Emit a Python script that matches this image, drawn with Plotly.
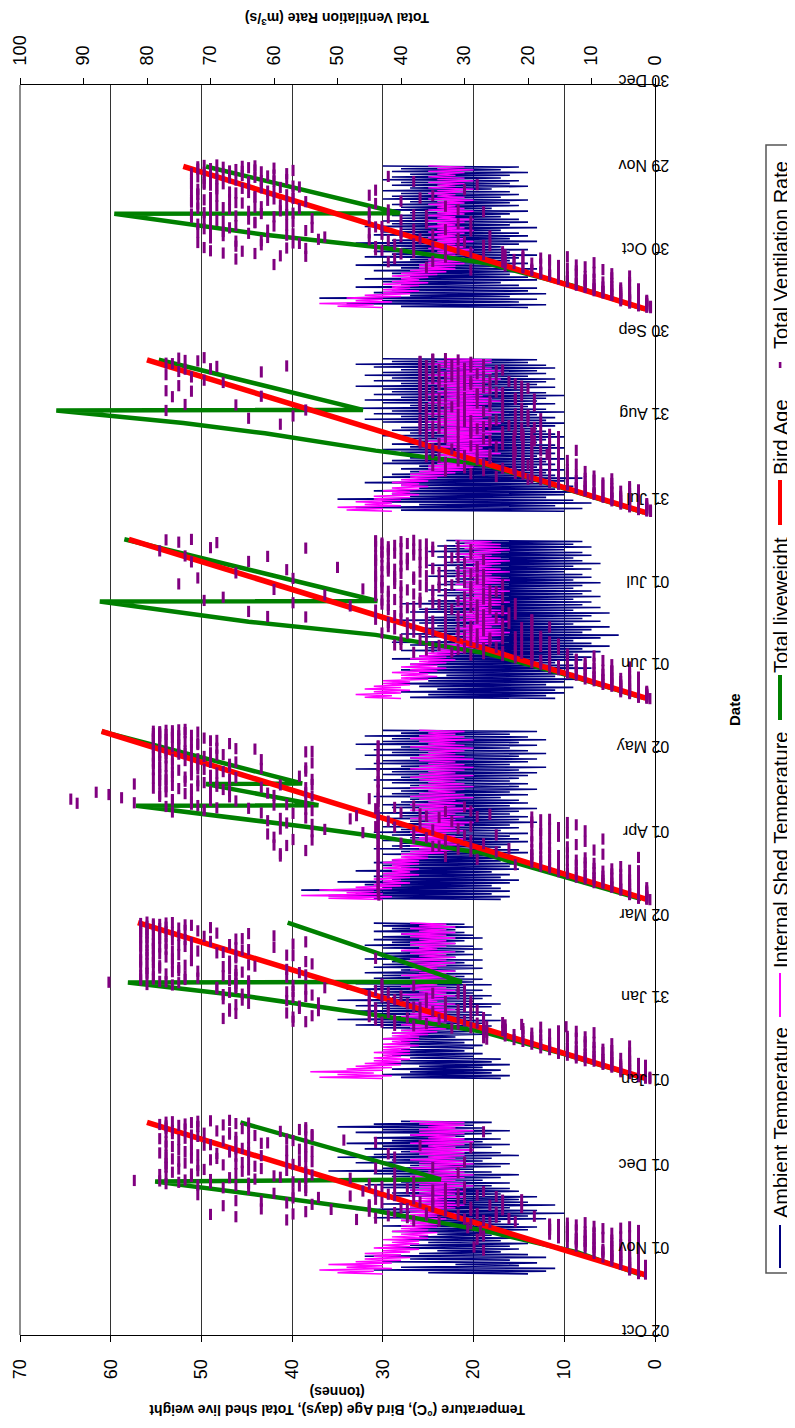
import pandas as pd
import plotly.graph_objects as go

# the page body adds an 8 px margin, so the figure is made 8 px smaller and
# every pixel position below is given in the coordinates of the final picture
OFF = 8
W, H = 795 - OFF, 1428 - OFF
FONT = "Liberation Sans, Arial, sans-serif"

# ---------------- axis ticks ----------------
date_ticks = ["2005-10-02", "2005-11-01", "2005-12-01", "2006-01-01", "2006-01-31", "2006-03-02",
              "2006-04-01", "2006-05-02", "2006-06-01", "2006-07-01", "2006-07-31", "2006-08-31",
              "2006-09-30", "2006-10-30", "2006-11-29", "2006-12-30"]
date_labels = ["02 Oct", "01 Nov", "01 Dec", "01 Jan", "31 Jan", "02 Mar", "01 Apr", "02 May",
               "01 Jun", "01 Jul", "31 Jul", "31 Aug", "30 Sep", "30 Oct", "29 Nov", "30 Dec"]
left_ticks = [0, 10, 20, 30, 40, 50, 60, 70]
right_ticks = [0, 10, 20, 30, 40, 50, 60, 70, 80, 90, 100]

# ---------------- flock placement dates (first day of daily readings) ----------------
flock_starts = ["2005-10-24", "2006-01-03", "2006-03-09", "2006-05-21", "2006-07-28", "2006-10-10"]

# ---------------- bird age (days): start / end of each flock ----------------
age_dates = [["2005-10-23 19:00", "2005-12-18 05:00"], ["2006-01-03 05:00", "2006-02-28 19:00"],
             ["2006-03-09 07:00", "2006-05-09 05:00"], ["2006-05-21 07:00", "2006-07-18 00:00"],
             ["2006-07-27 17:00", "2006-09-21 05:00"], ["2006-10-09 14:00", "2006-11-30 10:00"]]
age_vals = [[1, 56], [1, 57], [1, 61], [1, 58], [1, 56], [1, 52]]

# ---------------- total liveweight (tonnes) ----------------
lw_dates = [
    ["2005-10-23 19:00", "2005-11-01", "2005-11-09", "2005-11-16 10:00", "2005-11-22 10:00",
     "2005-11-26 17:00", "2005-11-27 12:00", "2005-12-18 05:00"],
    ["2006-01-03 05:00", "2006-01-12", "2006-01-20 05:00", "2006-01-26 05:00", "2006-02-01 22:00",
     "2006-02-07 00:00", "2006-02-07 07:00", "2006-02-28 19:00"],
    ["2006-03-09 07:00", "2006-03-17", "2006-03-26", "2006-04-01", "2006-04-04 14:00",
     "2006-04-12 05:00", "2006-04-12 10:00", "2006-04-20 02:00", "2006-04-20 07:00", "2006-05-09 05:00"],
    ["2006-05-21 07:00", "2006-05-30", "2006-06-06 14:00", "2006-06-13 07:00", "2006-06-18 02:00",
     "2006-06-25 10:00", "2006-06-25 14:00", "2006-07-18 00:00"],
    ["2006-07-27 17:00", "2006-08-05", "2006-08-14", "2006-08-19 05:00", "2006-08-25 12:00",
     "2006-08-29 05:00", "2006-09-02 19:00", "2006-09-03 00:00", "2006-09-21 05:00"],
    ["2006-10-09 14:00", "2006-10-18", "2006-10-26 07:00", "2006-11-01", "2006-11-05 14:00",
     "2006-11-13 05:00", "2006-11-13 10:00", "2006-11-30 10:00"],
]
lw_vals = [
    [1.5, 8.5, 19.0, 31.3, 44.8, 55.1, 23.6, 45.7],
    [1.2, 10.0, 19.1, 30.8, 44.8, 58.1, 21.3, 40.5],
    [1.5, 9.5, 19.1, 30.4, 38.5, 57.2, 37.1, 49.5, 38.9, 61.0],
    [1.2, 10.0, 18.6, 30.8, 44.8, 61.2, 30.6, 58.5],
    [1.2, 9.5, 18.6, 30.8, 43.0, 52.0, 66.0, 32.2, 54.7],
    [1.2, 9.0, 18.6, 30.2, 43.0, 59.6, 28.1, 49.5],
]

# ---------------- ambient temperature: daily low / high (°C) ----------------
amb_lo_f1 = [14, 12, 11, 15, 13, 16, 12, 14, 17, 15, 16, 14, 17, 15, 18, 16, 14, 13, 15, 17,
             12, 14, 10, 13, 16, 11, 14, 15, 13, 17, 15, 16, 18, 16, 19, 17, 15, 18, 20, 17,
             16, 19, 18, 15, 17, 20, 18, 16, 19, 17, 21, 18, 16, 19, 20, 18]
amb_hi_f1 = [25, 31, 28, 22, 30, 27, 32, 26, 24, 29, 27, 25, 28, 26, 24, 29, 27, 30, 25, 28,
             31, 26, 29, 33, 27, 30, 28, 24, 31, 29, 27, 30, 32, 28, 34, 29, 31, 36, 30, 27,
             33, 29, 35, 31, 28, 32, 30, 34, 29, 31, 27, 33, 30, 35, 31, 28]
amb_lo_f2 = [17, 16, 18, 17, 19, 16, 18, 17, 20, 19, 21, 20, 19, 21, 20, 22, 19, 20, 21, 18,
             19, 17, 20, 18, 19, 21, 18, 17, 20, 19, 18, 20, 19, 21, 18, 20, 19, 21, 20, 22,
             19, 20, 21, 19, 22, 20, 21, 19, 20, 22, 21, 19, 20, 21, 22, 20, 21]
amb_hi_f2 = [28, 30, 27, 29, 26, 30, 28, 27, 29, 30, 28, 27, 29, 28, 30, 27, 29, 28, 30, 33,
             31, 35, 29, 32, 34, 30, 33, 31, 35, 29, 32, 30, 34, 31, 33, 29, 31, 30, 32, 28,
             31, 30, 29, 32, 30, 31, 28, 30, 32, 29, 31, 30, 28, 31, 29, 30, 31]
amb_lo_f3 = [17, 16, 18, 16, 17, 18, 16, 15, 17, 16, 18, 15, 16, 14, 17, 15, 16, 14, 15, 17,
             16, 14, 15, 16, 14, 17, 15, 16, 13, 15, 14, 16, 15, 13, 16, 14, 15, 17, 14, 16,
             13, 15, 14, 16, 15, 14, 13, 15, 12, 16, 14, 13, 15, 12, 14, 16, 13, 15, 12, 14,
             16, 13]
amb_hi_f3 = [31, 36, 33, 39, 30, 32, 35, 29, 31, 30, 33, 28, 30, 31, 29, 27, 30, 28, 31, 29,
             28, 30, 27, 29, 31, 28, 30, 29, 27, 30, 28, 31, 26, 29, 30, 28, 27, 31, 29, 28,
             30, 27, 29, 31, 28, 30, 29, 33, 28, 31, 30, 27, 32, 29, 31, 28, 33, 30, 29, 32,
             28, 30]
amb_lo_f4 = [11, 12, 10, 11, 9, 12, 10, 8, 11, 9, 10, 7, 9, 11, 8, 7, 9, 6, 8, 5,
             7, 9, 6, 4, 8, 7, 5, 9, 6, 8, 7, 5, 9, 6, 8, 7, 9, 6, 8, 7,
             9, 8, 6, 9, 7, 8, 10, 7, 9, 6, 8, 9, 7, 8, 10, 7, 9, 8]
amb_hi_f4 = [27, 25, 28, 24, 26, 29, 25, 27, 23, 26, 28, 24, 27, 25, 29, 26, 24, 28, 25, 27,
             29, 23, 26, 28, 25, 27, 24, 26, 29, 25, 23, 27, 26, 24, 28, 25, 22, 24, 23, 25,
             21, 24, 23, 22, 25, 23, 24, 22, 25, 23, 21, 24, 22, 25, 23, 24, 22, 23]
amb_lo_f5 = [10, 8, 11, 7, 9, 12, 10, 8, 11, 9, 12, 10, 8, 11, 12, 10, 13, 11, 12, 10,
             13, 11, 12, 10, 11, 13, 12, 10, 11, 12, 13, 11, 10, 12, 11, 13, 10, 12, 14, 11,
             13, 12, 10, 12, 14, 11, 13, 12, 11, 14, 12, 13, 11, 12, 14, 13]
amb_hi_f5 = [28, 33, 26, 30, 35, 27, 29, 31, 26, 28, 32, 27, 30, 29, 27, 28, 26, 30, 29, 27,
             25, 28, 30, 27, 29, 26, 28, 30, 27, 29, 28, 26, 30, 32, 28, 31, 29, 33, 27, 30,
             32, 28, 31, 29, 30, 33, 28, 31, 29, 32, 30, 28, 31, 33, 29, 30]
amb_lo_f6 = [14, 12, 15, 13, 16, 12, 14, 13, 15, 17, 13, 14, 16, 15, 13, 17, 14, 16, 15, 13,
             16, 14, 17, 15, 13, 16, 14, 15, 17, 13, 16, 14, 15, 17, 16, 14, 18, 15, 16, 14,
             17, 15, 16, 18, 14, 16, 15, 17, 16, 14, 17, 15]
amb_hi_f6 = [28, 34, 30, 37, 27, 31, 29, 33, 28, 30, 32, 27, 29, 31, 28, 33, 30, 27, 32, 29,
             31, 28, 30, 33, 29, 27, 31, 30, 28, 32, 29, 30, 28, 29, 27, 30, 28, 29, 27, 30,
             29, 28, 30, 27, 29, 28, 30, 29, 27, 29, 28, 30]

# ---------------- internal shed temperature: daily low / high (°C) ----------------
int_lo_f1 = [30, 31, 29, 30, 29, 28, 27, 28, 27, 26, 27, 26, 26, 25, 25, 24, 25, 24, 23, 24,
             23, 24, 22, 23, 22, 21, 22, 23, 21, 22, 21, 22, 20, 21, 22, 21, 20, 21, 22, 21,
             20, 21, 22, 21, 21, 20, 22, 21, 20, 21, 22, 21, 20, 22, 21, 21]
int_hi_f1 = [35, 37, 34, 36, 33, 32, 31, 32, 30, 31, 30, 29, 30, 29, 28, 29, 28, 28, 27, 28,
             28, 27, 27, 28, 27, 26, 27, 26, 27, 26, 27, 26, 26, 27, 26, 27, 26, 25, 27, 26,
             26, 27, 25, 26, 27, 26, 25, 27, 26, 25, 27, 26, 26, 25, 26, 27]
int_lo_f2 = [30, 29, 31, 30, 29, 28, 28, 27, 28, 27, 27, 27, 26, 27, 26, 26, 25, 24, 23, 24,
             23, 22, 23, 24, 23, 22, 23, 22, 24, 23, 22, 23, 22, 23, 24, 22, 23, 22, 23, 22,
             24, 23, 22, 23, 22, 23, 22, 24, 23, 22, 23, 22, 23, 22, 23, 22, 23]
int_hi_f2 = [37, 35, 38, 34, 33, 32, 31, 31, 30, 31, 30, 30, 30, 29, 30, 29, 29, 28, 27, 28,
             27, 27, 28, 27, 26, 27, 28, 27, 26, 27, 28, 26, 27, 28, 27, 26, 27, 28, 26, 27,
             26, 27, 28, 27, 26, 27, 28, 26, 27, 27, 26, 27, 28, 26, 27, 26, 27]
int_lo_f3 = [30, 29, 30, 31, 29, 28, 27, 28, 27, 26, 27, 26, 27, 26, 26, 25, 25, 23, 22, 23,
             21, 22, 21, 22, 23, 21, 22, 21, 20, 22, 21, 22, 21, 20, 22, 21, 22, 20, 21, 22,
             21, 20, 21, 22, 21, 20, 22, 21, 20, 21, 22, 20, 21, 22, 21, 20, 21, 22, 20, 21,
             22, 21]
int_hi_f3 = [36, 39, 34, 37, 33, 31, 30, 31, 30, 30, 29, 30, 29, 30, 29, 28, 28, 27, 26, 27,
             26, 27, 26, 25, 27, 26, 27, 26, 25, 27, 26, 25, 27, 26, 27, 25, 26, 27, 26, 25,
             27, 26, 25, 26, 27, 26, 25, 27, 26, 25, 26, 27, 26, 25, 26, 27, 25, 26, 27, 26,
             25, 26]
int_lo_f4 = [28, 29, 28, 27, 28, 27, 27, 25, 24, 25, 24, 23, 24, 23, 22, 23, 22, 21, 20, 19,
             18, 17, 18, 17, 16, 17, 18, 17, 16, 17, 18, 16, 17, 18, 17, 16, 17, 18, 17, 16,
             17, 18, 17, 16, 17, 18, 16, 17, 18, 17, 16, 17, 18, 17, 16, 17, 17, 18]
int_hi_f4 = [32, 33, 31, 32, 31, 30, 30, 28, 28, 29, 27, 28, 27, 26, 27, 26, 25, 24, 24, 23,
             22, 22, 21, 22, 21, 22, 21, 20, 22, 21, 22, 21, 20, 22, 21, 22, 21, 20, 21, 22,
             21, 22, 21, 20, 22, 21, 22, 21, 20, 21, 22, 21, 22, 20, 21, 22, 21, 22]
int_lo_f5 = [29, 30, 28, 29, 28, 27, 26, 27, 26, 25, 26, 25, 24, 23, 22, 21, 20, 19, 18, 19,
             18, 17, 18, 19, 18, 17, 18, 19, 18, 17, 19, 18, 17, 18, 19, 18, 17, 18, 19, 18,
             17, 18, 19, 18, 17, 18, 19, 18, 17, 19, 18, 17, 18, 19, 18, 18]
int_hi_f5 = [34, 35, 32, 33, 31, 31, 29, 30, 29, 28, 29, 28, 27, 27, 26, 25, 25, 24, 24, 23,
             24, 23, 22, 24, 23, 25, 24, 23, 24, 25, 23, 24, 25, 24, 23, 25, 24, 23, 24, 25,
             24, 23, 25, 24, 23, 24, 25, 24, 23, 25, 24, 23, 24, 25, 24, 23]
int_lo_f6 = [30, 31, 29, 30, 28, 27, 26, 27, 26, 25, 26, 25, 24, 23, 22, 22, 21, 20, 21, 22,
             21, 20, 21, 22, 20, 21, 22, 21, 20, 21, 22, 21, 20, 22, 21, 20, 21, 22, 21, 20,
             21, 22, 21, 20, 22, 21, 20, 21, 22, 21, 20, 21]
int_hi_f6 = [35, 37, 33, 34, 32, 30, 30, 29, 30, 29, 28, 29, 28, 27, 26, 26, 25, 25, 24, 25,
             24, 25, 24, 25, 24, 25, 24, 25, 24, 25, 24, 25, 24, 25, 24, 25, 24, 25, 24, 25,
             24, 25, 24, 25, 24, 25, 24, 25, 24, 25, 24, 25]

# ---------------- total ventilation rate (m3/s) ----------------
# set A: readings at 03:00, 11:00, 19:00 of each day
vent_f1 = [1.5, 2.6, 1.5, 2.6, 1.5, 4.0, 2.6, 4.0, 1.5, 4.0, 2.6, 5.4, 2.6, 5.4, 4.0,
           5.4, 4.0, 2.6, 4.0, 6.8, 5.4, 6.8, 2.6, 8.2, 5.4, 8.2, 27.0, 8.2, 4.0, 9.6,
           6.8, 11.0, 5.4, 9.6, 2.6, 12.4, 11.0, 6.8, 28.0, 12.4, 8.2, 13.8, 4.0, 13.8, 9.6,
           15.2, 11.0, 27.5, 12.4, 16.6, 5.4, 13.8, 9.6, 16.6, 15.2, 29.0, 11.0, 22, 38, 58,
           30, 44, 25, 19, 36, 70, 28, 41, 55, 33, 24, 62, 40, 29, 45,
           26, 54, 35, 43, 31, 66, 21, 38, 57, 35, 48, 28, 42, 60, 33,
           27, 55, 44, 39, 68, 30, 56, 72, 45, 64, 75, 38, 82, 70, 55,
           67, 77, 60, 54, 73, 41, 76, 65, 58, 71, 62, 35, 77, 55, 68,
           66, 74, 30, 75, 58, 64, 69, 77, 55, 62, 72, 42, 78, 67, 54,
           73, 56, 65, 64, 76, 37, 70, 55, 61, 77, 68, 49, 58, 74, 66,
           72, 63, 54, 76, 67, 27, 69, 55, 74, 77, 64, 72, 75, 78, 66,
           73, 76, 70]
vent_f2 = [0.8, 1.5, 2.6, 1.5, 2.6, 1.5, 2.6, 4.0, 1.5, 4.0, 2.6, 5.4, 2.6, 5.4, 6.8,
           5.4, 4.0, 8.2, 6.8, 9.6, 4.0, 8.2, 5.4, 11.0, 9.6, 12.4, 6.8, 11.0, 4.0, 13.8,
           12.4, 15.2, 8.2, 13.8, 9.6, 16.6, 15.2, 18.0, 6.8, 16.6, 11.0, 19.4, 18.0, 26.5, 12.4,
           19.4, 13.8, 20.8, 22.2, 27.0, 9.6, 20.8, 15.2, 23.6, 23.6, 32, 18.0, 26.5, 41, 21,
           36, 24, 55, 30, 44, 27, 39, 57, 33, 29, 45, 66, 42, 35, 53,
           31, 67, 44, 38, 56, 29, 45, 64, 36, 33, 58, 41, 68, 30, 43,
           40, 54, 65, 35, 67, 57, 44, 30, 69, 52, 66, 38, 76, 43, 64,
           86, 78, 67, 74, 81, 66, 79, 68, 55, 77, 80, 65, 72, 66, 58,
           80, 75, 68, 78, 64, 54, 76, 81, 67, 73, 79, 44, 80, 66, 57,
           75, 78, 69, 81, 72, 65, 77, 79, 60, 74, 80, 67, 79, 73, 55,
           81, 76, 66, 78, 80, 71, 75, 79, 64, 80, 77, 72, 79, 81, 75,
           77, 80, 73, 78, 81, 76]
vent_f3 = [0.8, 1.3, 2.6, 1.3, 2.6, 43.5, 2.6, 4.0, 1.3, 4.0, 2.6, 5.4, 5.4, 1.3, 6.8,
           2.6, 6.8, 43.6, 6.8, 8.2, 4.0, 8.2, 5.4, 9.6, 9.6, 2.6, 11.0, 11.0, 6.8, 43.6,
           12.4, 8.2, 4.0, 13.8, 9.6, 15.2, 5.4, 15.2, 22, 16.6, 11.0, 43.6, 18.0, 12.4, 28,
           19.4, 2.6, 33, 15.2, 19.4, 59, 13.8, 25, 43.6, 9.6, 31, 18.0, 16.6, 35, 58,
           12.4, 27, 43.6, 19.4, 33, 54, 8.2, 38, 60, 15.2, 30, 43.6, 18.0, 46, 54,
           11.0, 35, 59, 16.6, 41, 29, 19.4, 54, 43.6, 13.8, 32, 61, 18.0, 48, 55,
           19.4, 36, 43.6, 26, 57, 40, 33, 54, 71, 44, 69, 30, 38, 60, 73,
           91, 55, 43.6, 70, 76, 45, 84, 67, 54, 73, 78, 61, 88, 70, 43.6,
           68, 75, 55, 77, 72, 59, 82, 69, 43.6, 74, 78, 54, 70, 66, 76,
           77, 73, 43.6, 69, 78, 55, 75, 71, 62, 78, 67, 43.6, 72, 76, 54,
           66, 79, 70, 76, 73, 43.6, 71, 78, 68, 77, 70, 55, 74, 79, 63,
           69, 75, 43.6, 78, 72, 67, 73, 77, 70, 79, 75, 71, 76, 78, 73,
           77, 79, 74, 78, 76, 75]
vent_f4 = [0.8, 1.3, 2.6, 1.3, 2.6, 1.3, 2.6, 4.0, 1.3, 4.0, 2.6, 5.4, 2.6, 5.4, 4.0,
           5.4, 6.8, 2.6, 6.8, 4.0, 8.2, 8.2, 5.4, 9.6, 9.6, 6.8, 11.0, 4.0, 11.0, 12.4,
           12.4, 8.2, 13.8, 9.6, 13.8, 15.2, 15.2, 6.8, 16.6, 11.0, 16.6, 18.0, 18.0, 12.4, 19.4,
           13.8, 19.4, 24, 16.6, 27, 32, 19.4, 22, 36, 15.2, 30, 25, 18.0, 34, 40,
           21, 28, 16.6, 19.4, 37, 24, 26, 33, 18.0, 30, 21, 39, 19.4, 35, 27,
           24, 41, 31, 16.6, 29, 38, 33, 23, 42, 27, 36, 19.4, 40, 25, 55,
           31, 38, 22, 36, 28, 64, 24, 42, 33, 39, 30, 48, 28, 43, 35,
           37, 26, 71, 41, 33, 24, 30, 44, 52, 38, 27, 40, 42, 35, 60,
           29, 43, 36, 40, 32, 75, 34, 44, 27, 43, 38, 57, 31, 41, 36,
           44, 29, 66, 37, 42, 33, 41, 35, 50, 28, 43, 39, 42, 36, 73,
           33, 44, 40, 39, 31, 61, 44, 37, 42, 36, 43, 78, 42, 38, 55,
           35, 44, 41, 43, 39, 69, 40, 44, 77]
vent_f5 = [0.7, 1.3, 2.6, 1.3, 2.6, 4.0, 2.6, 1.3, 5.4, 4.0, 5.4, 2.6, 5.4, 2.6, 6.8,
           6.8, 4.0, 8.2, 2.6, 8.2, 9.6, 9.6, 5.4, 11.0, 11.0, 6.8, 12.4, 4.0, 12.4, 13.8,
           13.8, 8.2, 15.2, 15.2, 9.6, 20, 11.0, 16.6, 25, 18.0, 12.4, 29, 13.8, 19.4, 33,
           20.8, 15.2, 24, 16.6, 22.2, 35, 22.2, 27, 18.0, 19.4, 31, 15.2, 20.8, 26, 34,
           22.2, 30, 17, 16.6, 35, 22, 18.0, 28, 32, 20.8, 36, 25, 15.2, 24, 34,
           22.2, 31, 19, 19.4, 27, 36, 20.8, 33, 21, 16.6, 29, 35, 24, 36, 18,
           28, 21, 33, 35, 26, 59, 22, 34, 30, 29, 37, 18, 33, 24, 57,
           20, 31, 36, 35, 27, 77, 24, 36, 30, 32, 19, 66, 37, 28, 34,
           26, 35, 22, 34, 30, 76, 21, 37, 28, 31, 25, 73, 36, 33, 20,
           27, 37, 75, 34, 22, 31, 37, 29, 71, 25, 35, 33, 32, 37, 77,
           28, 36, 62, 35, 24, 74, 30, 37, 69, 36, 27, 76, 33, 37, 72,
           31, 35, 75]
vent_f6 = [0.7, 1.3, 2.6, 1.3, 2.6, 4.0, 2.6, 4.0, 1.3, 4.0, 5.4, 2.6, 5.4, 2.6, 6.8,
           6.8, 8.2, 4.0, 8.2, 5.4, 9.6, 9.6, 11.0, 6.8, 11.0, 4.0, 12.4, 12.4, 8.2, 13.8,
           13.8, 9.6, 15.2, 15.2, 11.0, 16.6, 16.6, 6.8, 18.0, 18.0, 12.4, 29, 19.4, 13.8, 36,
           20.8, 15.2, 60, 22.2, 9.6, 42, 23.6, 16.6, 66, 18.0, 33, 55, 20.8, 27, 63,
           38, 24, 70, 44, 31, 58, 35, 66, 27, 41, 56, 72, 30, 62, 45,
           37, 70, 52, 26, 58, 43, 64, 40, 68, 55, 33, 71, 67, 44, 60,
           58, 72, 36, 63, 29, 69, 71, 54, 42, 60, 66, 38, 73, 57, 45,
           64, 70, 31, 56, 68, 62, 69, 59, 72, 65, 73, 40, 61, 67, 57,
           70, 63, 35, 58, 72, 66, 67, 61, 44, 72, 65, 59, 62, 69, 28,
           68, 71, 64, 60, 66, 73, 71, 63, 42, 65, 70, 58, 69, 62, 67,
           63, 72, 60, 68, 65, 71]
# set B: readings at 07:00, 15:00, 23:00 of each day
vent2_f1 = [2.6, 1.5, 1.5, 1.5, 4.0, 2.6, 4.0, 1.5, 2.6, 1.5, 5.4, 4.0, 4.0, 2.6, 6.8,
            2.6, 6.8, 5.4, 8.2, 2.6, 6.8, 4.0, 9.6, 5.4, 9.6, 6.8, 2.6, 5.4, 11.0, 28.5,
            12.4, 4.0, 9.6, 6.8, 13.8, 11.0, 2.6, 12.4, 9.6, 15.2, 5.4, 27.0, 11.0, 16.6, 6.8,
            9.6, 13.8, 2.6, 16.6, 8.2, 29.5, 4.0, 15.2, 12.4, 16.6, 13.8, 26.0, 34, 27, 47,
            23, 39, 66, 42, 31, 57, 36, 25, 45, 29, 51, 39, 21, 35, 68,
            45, 33, 58, 37, 62, 24, 44, 30, 53, 25, 41, 72, 31, 57, 38,
            46, 35, 64, 33, 55, 43, 66, 41, 77, 70, 57, 78, 74, 63, 48,
            59, 73, 55, 78, 66, 31, 55, 72, 64, 75, 44, 77, 63, 72, 57,
            77, 65, 54, 56, 70, 76, 73, 41, 66, 77, 55, 69, 64, 74, 58,
            75, 66, 29, 55, 77, 71, 73, 62, 44, 66, 57, 75, 78, 64, 55,
            54, 73, 67, 71, 77, 59, 76, 56, 65, 55, 72, 77, 68, 74, 64,
            77, 72, 67]
vent2_f2 = [1.5, 0.8, 1.5, 2.6, 1.5, 4.0, 1.5, 5.4, 2.6, 5.4, 4.0, 2.6, 6.8, 4.0, 1.5,
            8.2, 2.6, 6.8, 4.0, 11.0, 8.2, 9.6, 12.4, 6.8, 4.0, 13.8, 11.0, 15.2, 8.2, 9.6,
            6.8, 16.6, 13.8, 18.0, 12.4, 4.0, 11.0, 19.4, 16.6, 9.6, 20.8, 15.2, 22.2, 13.8, 27.0,
            11.0, 23.6, 18.0, 16.6, 19.4, 26.5, 12.4, 24.0, 27.0, 20.8, 29, 14.0, 38, 23.6, 31,
            28, 43, 57, 41, 34, 68, 27, 45, 54, 37, 31, 58, 33, 67, 28,
            44, 56, 37, 30, 42, 66, 39, 53, 33, 29, 65, 45, 36, 57, 55,
            45, 68, 31, 42, 58, 64, 31, 55, 66, 69, 43, 57, 80, 66, 75,
            77, 64, 81, 79, 72, 58, 74, 81, 66, 80, 56, 76, 75, 79, 67,
            78, 81, 63, 74, 67, 80, 79, 55, 73, 81, 76, 66, 77, 79, 58,
            80, 73, 68, 76, 80, 64, 79, 66, 78, 81, 75, 57, 77, 80, 70,
            79, 74, 65, 81, 77, 60, 78, 80, 69, 76, 81, 74, 80, 78, 70,
            81, 79, 74, 79, 77, 80]
vent2_f3 = [1.3, 2.6, 1.3, 2.6, 1.3, 4.0, 4.0, 2.6, 43.6, 1.3, 5.4, 4.0, 2.6, 6.8, 43.6,
            5.4, 4.0, 8.2, 9.6, 2.6, 43.6, 4.0, 11.0, 6.8, 12.4, 8.2, 43.6, 5.4, 13.8, 9.6,
            15.2, 2.6, 43.6, 6.8, 16.6, 11.0, 18.0, 12.4, 43.6, 9.6, 19.4, 15.2, 13.8, 16.6, 43.6,
            11.0, 18.0, 59, 19.4, 8.2, 43.6, 16.6, 29, 55, 19.4, 23, 43.6, 13.8, 34, 60,
            18.0, 40, 43.6, 11.0, 29, 57, 16.6, 36, 43.6, 19.4, 25, 61, 13.8, 38, 43.6,
            18.0, 52, 31, 15.2, 44, 43.6, 12.4, 37, 58, 19.4, 42, 43.6, 16.6, 59, 34,
            28, 47, 43.6, 37, 62, 76, 29, 71, 55, 64, 41, 77, 72, 58, 43.6,
            82, 73, 66, 76, 92, 43.6, 70, 78, 60, 86, 74, 55, 77, 67, 43.6,
            73, 79, 62, 69, 76, 54, 78, 71, 43.6, 72, 77, 67, 79, 74, 56,
            70, 78, 43.6, 76, 68, 73, 79, 72, 55, 73, 77, 43.6, 67, 79, 70,
            78, 74, 62, 72, 77, 43.6, 79, 69, 75, 74, 78, 54, 77, 73, 66,
            79, 76, 43.6, 75, 79, 72, 78, 74, 69, 77, 79, 76, 79, 75, 78,
            76, 78, 72, 79, 77, 74]
vent2_f4 = [1.3, 2.6, 1.3, 2.6, 1.3, 4.0, 1.3, 5.4, 2.6, 5.4, 4.0, 2.6, 4.0, 6.8, 5.4,
            8.2, 2.6, 6.8, 5.4, 9.6, 4.0, 11.0, 6.8, 2.6, 4.0, 12.4, 8.2, 13.8, 9.6, 6.8,
            6.8, 15.2, 11.0, 16.6, 4.0, 12.4, 11.0, 18.0, 9.6, 19.4, 13.8, 8.2, 12.4, 16.6, 22,
            19.4, 9.6, 29, 13.8, 21, 38, 24, 16.6, 31, 19.4, 27, 35, 22, 41, 15.2,
            33, 19.4, 26, 29, 40, 18.0, 36, 22, 31, 19.4, 28, 43, 38, 24, 33,
            29, 36, 21, 42, 27, 19.4, 24, 39, 30, 35, 19.4, 44, 28, 33, 61,
            41, 27, 36, 23, 40, 30, 44, 32, 26, 29, 38, 42, 34, 22, 57,
            40, 31, 43, 27, 37, 68, 42, 29, 35, 33, 44, 25, 26, 39, 46,
            43, 34, 29, 37, 24, 41, 30, 43, 33, 41, 28, 72, 38, 44, 30,
            27, 40, 34, 43, 31, 58, 35, 42, 28, 40, 33, 44, 30, 37, 64,
            44, 27, 39, 32, 43, 74, 38, 29, 41, 43, 35, 33, 29, 40, 70,
            42, 31, 37, 36, 43, 75, 44, 38, 73]
vent2_f5 = [1.3, 0.7, 1.3, 2.6, 1.3, 2.6, 4.0, 2.6, 1.3, 2.6, 4.0, 6.8, 4.0, 6.8, 5.4,
            8.2, 5.4, 2.6, 9.6, 4.0, 6.8, 6.8, 11.0, 2.6, 4.0, 12.4, 9.6, 11.0, 8.2, 15.2,
            6.8, 16.6, 11.0, 12.4, 18.0, 6.8, 19.4, 13.8, 9.6, 15.2, 20.8, 22, 18.0, 11.0, 27,
            13.8, 22.2, 30, 19.4, 16.6, 20, 12.4, 20.8, 33, 22.2, 13.8, 28, 16.6, 19.4, 36,
            20.8, 15.2, 26, 22.2, 19.4, 31, 12.4, 22.2, 35, 19.4, 16.6, 29, 22.2, 20.8, 37,
            16.6, 22.2, 26, 20.8, 18.0, 33, 15.2, 22.2, 24, 20.8, 19.4, 31, 29, 22, 37,
            34, 19, 27, 23, 31, 36, 37, 26, 20, 25, 33, 64, 30, 36, 21,
            36, 22, 33, 27, 34, 55, 33, 21, 37, 26, 30, 74, 35, 24, 31,
            30, 37, 19, 22, 33, 62, 36, 28, 35, 24, 35, 77, 33, 26, 37,
            37, 21, 30, 29, 36, 68, 23, 34, 26, 35, 30, 73, 27, 37, 36,
            36, 31, 75, 25, 34, 70, 37, 29, 58, 32, 35, 77, 29, 37, 74,
            35, 33, 71]
vent2_f6 = [1.3, 0.7, 1.3, 2.6, 1.3, 2.6, 1.3, 5.4, 4.0, 5.4, 2.6, 4.0, 2.6, 6.8, 5.4,
            4.0, 5.4, 8.2, 9.6, 6.8, 2.6, 5.4, 8.2, 11.0, 12.4, 9.6, 6.8, 4.0, 13.8, 11.0,
            11.0, 15.2, 6.8, 13.8, 4.0, 16.6, 12.4, 18.0, 9.6, 16.6, 19.4, 8.2, 15.2, 20.8, 11.0,
            23.6, 12.4, 18.0, 19.4, 24, 35, 16.6, 22.2, 41, 20.8, 13.8, 59, 23.6, 40, 68,
            29, 65, 43, 33, 55, 71, 44, 26, 62, 38, 57, 30, 66, 42, 53,
            31, 61, 40, 68, 35, 57, 45, 72, 29, 61, 38, 70, 54, 43, 66,
            70, 31, 63, 57, 68, 40, 64, 45, 73, 70, 36, 58, 62, 71, 27,
            59, 42, 67, 72, 63, 33, 58, 70, 44, 66, 55, 73, 71, 60, 37,
            63, 69, 45, 72, 57, 64, 60, 73, 30, 69, 62, 56, 57, 70, 71,
            73, 64, 38, 62, 58, 69, 67, 72, 61, 60, 68, 73, 71, 65, 57,
            66, 70, 64, 72, 63, 69]

flocks = [
    (flock_starts[0], amb_lo_f1, amb_hi_f1, int_lo_f1, int_hi_f1, vent_f1, vent2_f1),
    (flock_starts[1], amb_lo_f2, amb_hi_f2, int_lo_f2, int_hi_f2, vent_f2, vent2_f2),
    (flock_starts[2], amb_lo_f3, amb_hi_f3, int_lo_f3, int_hi_f3, vent_f3, vent2_f3),
    (flock_starts[3], amb_lo_f4, amb_hi_f4, int_lo_f4, int_hi_f4, vent_f4, vent2_f4),
    (flock_starts[4], amb_lo_f5, amb_hi_f5, int_lo_f5, int_hi_f5, vent_f5, vent2_f5),
    (flock_starts[5], amb_lo_f6, amb_hi_f6, int_lo_f6, int_hi_f6, vent_f6, vent2_f6),
]


def stamp(ts, hours):
    return (ts + pd.Timedelta(hours=hours)).strftime("%Y-%m-%d %H:%M")


amb_t, amb_v, int_t, int_v, vent_t, vent_v = [], [], [], [], [], []
for start, alo, ahi, ilo, ihi, vent_a, vent_b in flocks:
    days = pd.date_range(start, periods=len(alo), freq="D")
    for i, d in enumerate(days):
        amb_t += [stamp(d, 5), stamp(d, 14)]
        amb_v += [alo[i], ahi[i]]
        int_t += [stamp(d, 4), stamp(d, 15)]
        int_v += [ilo[i], ihi[i]]
        for k, h in enumerate((3, 11, 19)):
            vent_t.append(stamp(d, h))
            vent_v.append(vent_a[3 * i + k])
        for k, h in enumerate((7, 15, 23)):
            vent_t.append(stamp(d, h))
            vent_v.append(vent_b[3 * i + k])
    amb_t.append(None); amb_v.append(None)
    int_t.append(None); int_v.append(None)

lw_t, lw_v, age_t, age_v = [], [], [], []
for dts, vals in zip(lw_dates, lw_vals):
    lw_t += dts + [None]
    lw_v += vals + [None]
for dts, vals in zip(age_dates, age_vals):
    age_t += dts + [None]
    age_v += vals + [None]

NAVY, MAGENTA, GREEN, RED, PURPLE = "#000080", "#FF00FF", "#008000", "#FF0000", "#800080"

fig = go.Figure()
fig.add_trace(go.Scatter(x=amb_v, y=amb_t, mode="lines", line=dict(color=NAVY, width=1.6),
                         name="Ambient Temperature", xaxis="x", yaxis="y"))
fig.add_trace(go.Scatter(x=int_v, y=int_t, mode="lines", line=dict(color=MAGENTA, width=1.4),
                         name="Internal Shed Temperature", xaxis="x", yaxis="y"))
fig.add_trace(go.Scatter(x=lw_v, y=lw_t, mode="lines", line=dict(color=GREEN, width=4.5),
                         name="Total liveweight", xaxis="x", yaxis="y"))
fig.add_trace(go.Scatter(x=age_v, y=age_t, mode="lines", line=dict(color=RED, width=5.5),
                         name="Bird Age", xaxis="x", yaxis="y"))
fig.add_trace(go.Scatter(x=vent_v, y=vent_t, mode="markers",
                         marker=dict(symbol="line-ns", size=8, color=PURPLE,
                                     line=dict(width=3.0, color=PURPLE)),
                         name="Total Ventilation Rate", xaxis="x2", yaxis="y"))

X0, X1, Y0, Y1 = 20, 655, 85, 1335


def px(x):
    return (x - OFF) / W


def py(y):
    return 1 - (y - OFF) / H


fig.update_layout(
    template="none",
    width=W, height=H, margin=dict(l=0, r=0, t=0, b=0, pad=0),
    paper_bgcolor="white", plot_bgcolor="white", showlegend=False,
    font=dict(family=FONT, color="black"),
    xaxis=dict(domain=[px(X0), px(X1)], range=[70, 0], tickmode="array", tickvals=left_ticks,
               tickangle=-90, ticks="outside", ticklen=6, tickcolor="black", showline=True,
               linecolor="black", linewidth=1, showgrid=True, gridcolor="#333333", gridwidth=1,
               zeroline=False, tickfont=dict(size=18), anchor="y", side="bottom",
               ticklabelstandoff=10, automargin=False),
    xaxis2=dict(overlaying="x", side="top", range=[100, 0], tickmode="array",
                tickvals=right_ticks, tickangle=-90, ticks="outside", ticklen=6,
                tickcolor="black", showline=True, linecolor="black", linewidth=1,
                showgrid=False, zeroline=False, tickfont=dict(size=18), anchor="y",
                ticklabelstandoff=9, automargin=False),
    yaxis=dict(domain=[py(Y1), py(Y0)], type="date", range=["2005-10-02", "2006-12-30"],
               tickmode="array", tickvals=date_ticks, ticktext=date_labels, tickangle=180,
               side="right", ticks="outside", ticklen=5, tickcolor="black", showline=True,
               linecolor="black", linewidth=1, showgrid=False, zeroline=False,
               tickfont=dict(size=16), ticklabelstandoff=5, automargin=False),
)

shapes = [
    dict(type="line", xref="paper", yref="paper", x0=px(X0), x1=px(X0), y0=py(Y0), y1=py(Y1),
         line=dict(color="#8c8c8c", width=2)),
    dict(type="rect", xref="paper", yref="paper", x0=px(766), x1=px(805), y0=py(1273), y1=py(145),
         line=dict(color="#555555", width=1.5), fillcolor="rgba(0,0,0,0)"),
    dict(type="line", xref="paper", yref="paper", x0=px(780), x1=px(780), y0=py(1268), y1=py(1225),
         line=dict(color=NAVY, width=2)),
    dict(type="line", xref="paper", yref="paper", x0=px(780), x1=px(780), y0=py(1017), y1=py(973),
         line=dict(color=MAGENTA, width=2)),
    dict(type="line", xref="paper", yref="paper", x0=px(780), x1=px(780), y0=py(720), y1=py(675),
         line=dict(color=GREEN, width=4)),
    dict(type="line", xref="paper", yref="paper", x0=px(780), x1=px(780), y0=py(525), y1=py(480),
         line=dict(color=RED, width=4)),
    dict(type="rect", xref="paper", yref="paper", x0=px(778.8), x1=px(781.4), y0=py(368), y1=py(362),
         line=dict(width=0), fillcolor=PURPLE),
]

annotations = [
    dict(text="<b>Temperature (°C), Bird Age (days), Total shed live weight<br>(tonnes)</b>",
         xref="paper", yref="paper", x=px(337), y=py(1401), textangle=180, showarrow=False,
         font=dict(size=14), xanchor="center", yanchor="middle"),
    dict(text="<b>Total Ventilation Rate (m<sup>3</sup>/s)</b>", xref="paper", yref="paper",
         x=px(337), y=py(19), textangle=180, showarrow=False, font=dict(size=14),
         xanchor="center", yanchor="middle"),
    dict(text="<b>Date</b>", xref="paper", yref="paper", x=px(734), y=py(710), textangle=-90,
         showarrow=False, font=dict(size=15), xanchor="center", yanchor="middle"),
]
legend_items = [("Ambient Temperature", 1123), ("Internal Shed Temperature", 850),
                ("Total liveweight", 605), ("Bird Age", 437), ("Total Ventilation Rate", 255)]
for label, yc in legend_items:
    annotations.append(dict(text=label, xref="paper", yref="paper", x=px(781), y=py(yc),
                            textangle=-90, showarrow=False, font=dict(size=20),
                            xanchor="center", yanchor="middle"))

fig.update_layout(shapes=shapes, annotations=annotations)
fig.write_html("out.html")
